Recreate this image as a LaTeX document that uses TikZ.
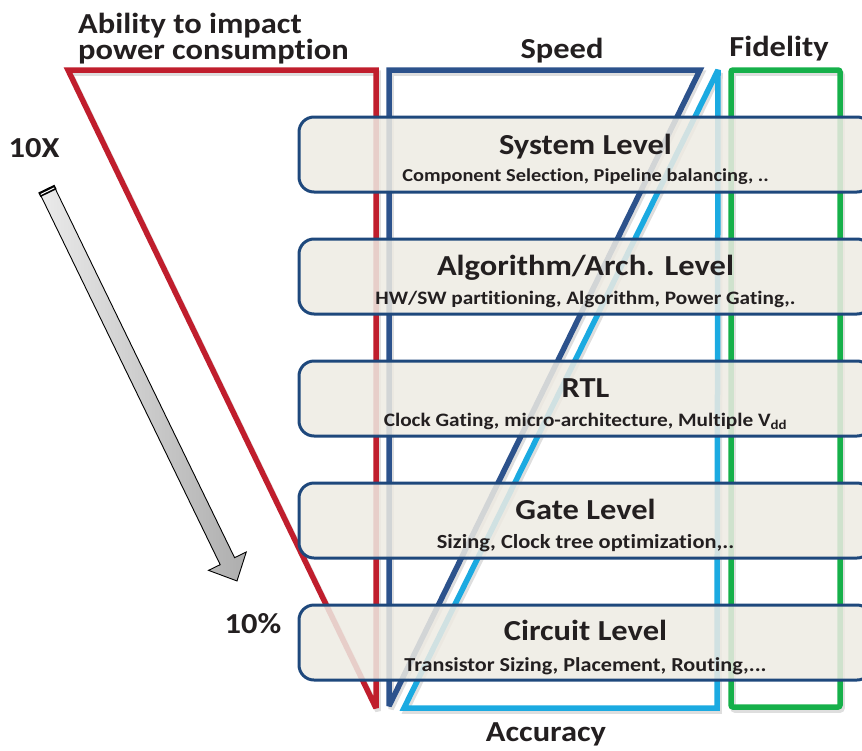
\documentclass[tikz,border=0pt]{standalone}
\usepackage{fontspec}
\setmainfont{Carlito}[FakeStretch=1.12, Ligatures=NoCommon]
\usetikzlibrary{calc}

\definecolor{impactred}{RGB}{192,30,45}
\definecolor{speedblue}{RGB}{44,82,140}
\definecolor{accblue}{RGB}{27,170,225}
\definecolor{fidgreen}{RGB}{22,176,74}
\definecolor{boxnavy}{RGB}{30,72,124}
\definecolor{boxfill}{RGB}{238,235,227}
\definecolor{ink}{RGB}{35,31,32}

\tikzset{
  frame/.style={line width=5.5pt, miter limit=2},
  frameshadow/.style={line width=5.5pt, miter limit=2, draw=black, opacity=0.13},
  lvlbox/.style={draw=boxnavy, line width=3pt, fill=boxfill, fill opacity=0.86,
    rounded corners=15pt, minimum width=573pt, minimum height=75pt, inner sep=0pt},
  lvltitle/.style={text=ink, font=\fontsize{29}{29}\selectfont\bfseries, inner sep=0pt, anchor=base},
  lvlsub/.style={text=ink, font=\fontsize{#1}{#1}\selectfont\bfseries, inner sep=0pt, anchor=base},
  biglabel/.style={text=ink, font=\fontsize{29}{29}\selectfont\bfseries, inner sep=0pt, anchor=base},
}

\begin{document}
\begin{tikzpicture}[x=1pt,y=-1pt]
\useasboundingbox (0,0) rectangle (862,750);

% soft shadows under the outline shapes
\begin{scope}[shift={(2,3)}]
  \draw[frameshadow] (68,70) -- (376,70) -- (376,708) -- cycle;
  \draw[frameshadow] (389,70) -- (700,70) -- (389,706) -- cycle;
  \draw[frameshadow] (718,70) -- (717,708) -- (404,708) -- cycle;
  \draw[frameshadow, rounded corners=2pt] (731,70) rectangle (840,707);
\end{scope}

% power-impact triangle, speed triangle, accuracy triangle, fidelity bar
\draw[frame, impactred] (68,70) -- (376,70) -- (376,708) -- cycle;
\draw[frame, speedblue] (389,70) -- (700,70) -- (389,706) -- cycle;
\draw[frame, accblue] (718,70) -- (717,708) -- (404,708) -- cycle;
\draw[frame, fidgreen, rounded corners=2pt] (731,70) rectangle (840,707);

% abstraction levels
\node[lvlbox] (sys) at (585.5,154.5) {};
\node[lvlbox] (alg) at (585.5,276.5) {};
\node[lvlbox] (rtl) at (585.5,398.5) {};
\node[lvlbox] (gate) at (585.5,520.5) {};
\node[lvlbox] (circ) at (585.5,642.5) {};

\node[lvltitle] (systitle) at (sys.center) {System Level};
\node[lvlsub=18.2] (syssub) at ([yshift=-27pt]sys.center) {Component Selection, Pipeline balancing, ..};
\node[lvltitle] (algtitle) at ([yshift=1pt]alg.center) {Algorithm/Arch. Level};
\node[lvlsub=19] (algsub) at ([yshift=-27.5pt]alg.center) {HW/SW partitioning, Algorithm, Power Gating,.};
\node[lvltitle] (rtltitle) at ([yshift=1pt]rtl.center) {RTL};
\node[lvlsub=19] (rtlsub) at ([yshift=-27.5pt]rtl.center) {Clock Gating, micro-architecture, Multiple V\textsubscript{dd}};
\node[lvltitle] (gatetitle) at ([yshift=1pt]gate.center) {Gate Level};
\node[lvlsub=20] (gatesub) at ([yshift=-28pt]gate.center) {Sizing, Clock tree optimization,..};
\node[lvltitle] (circtitle) at ([yshift=2.5pt]circ.center) {Circuit Level};
\node[lvlsub=19.8] (circsub) at ([yshift=-29pt]circ.center) {Transistor Sizing, Placement, Routing,...};

% axis captions
\node[biglabel, anchor=base west] (abil1) at (78,33) {Ability to impact};
\node[biglabel, anchor=base west] (abil2) at (78,59) {power consumption};
\node[biglabel] (speed) at (562,58) {Speed};
\node[biglabel] (fidelity) at (779,56) {Fidelity};
\node[biglabel] (acc) at (546,741) {Accuracy};
\node[biglabel] (tenx) at (34,157) {10X};
\node[biglabel] (tenpct) at (253,633) {10\%};

% shaded trend arrow from 10X down to 10%
\begin{scope}[shift={(47,190)}, rotate=-64.08]
  \shadedraw[left color=black!8, right color=black!32, draw=black, line width=0.9pt, line join=miter]
    (0,8) -- (412.7,8) -- (412.7,21) -- (434.7,0) -- (412.7,-21) -- (412.7,-8) -- (0,-8) -- cycle;
  \fill[black] (-1.5,-9) rectangle (3.5,9);
  \draw[white, line width=1pt] (1.3,-7.5) -- (1.3,7.5);
\end{scope}
\end{tikzpicture}
\end{document}
